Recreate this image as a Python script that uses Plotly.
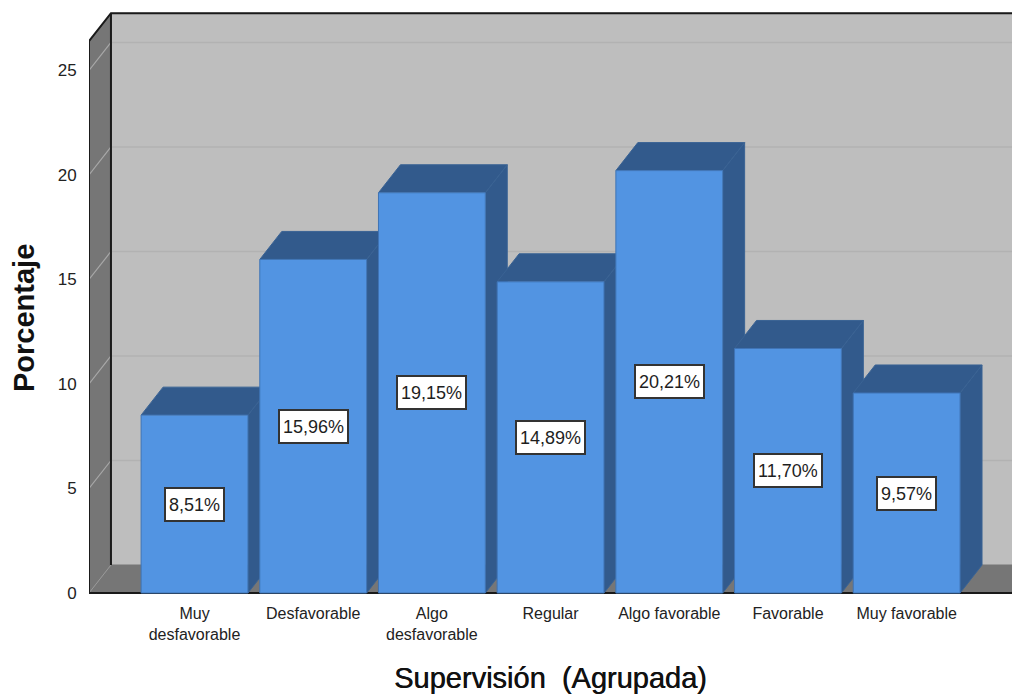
import plotly.graph_objects as go

categories = ["Muy<br>desfavorable", "Desfavorable", "Algo<br>desfavorable", "Regular",
              "Algo favorable", "Favorable", "Muy favorable"]
values = [8.51, 15.96, 19.15, 14.89, 20.21, 11.70, 9.57]
labels = ["8,51%", "15,96%", "19,15%", "14,89%", "20,21%", "11,70%", "9,57%"]
yticks = [0, 5, 10, 15, 20, 25]

BAR_W = 0.9
DX, DY = 0.185, 1.34       # oblique depth offset in axis units
XL, XR = -0.889, 6.889     # front floor extents
XMAX = 6.955
YTOP = 26.4
YMIN = -0.239
YMAX = 27.99
WALL = "#BEBEBE"
SIDE_WALL = "#767676"
BAR = "#5294E2"
BAR_DK = "#325A8C"
EDGE = "#1A1A1A"

fig = go.Figure()


def poly(xs, ys, fill, line=None, width=1):
    fig.add_trace(go.Scatter(x=xs, y=ys, mode="lines", fill="toself", fillcolor=fill,
                             line=dict(color=line or fill, width=width),
                             hoverinfo="skip", showlegend=False))


def seg(xs, ys, color, width):
    fig.add_trace(go.Scatter(x=xs, y=ys, mode="lines", line=dict(color=color, width=width),
                             hoverinfo="skip", showlegend=False))


# back wall, side wall, floor
poly([XL + DX, XMAX + 1, XMAX + 1, XL + DX], [DY, DY, YTOP + DY, YTOP + DY], WALL)
poly([XL, XL + DX, XL + DX, XL], [0, DY, YTOP + DY, YTOP], SIDE_WALL)
poly([XL, XL + DX, XMAX + 1, XR], [0, DY, DY, 0], SIDE_WALL)

# gridlines
for t in yticks[1:]:
    seg([XL + DX, XMAX + 1], [t + DY, t + DY], "#B2B2B2", 1.5)
    seg([XL, XL + DX], [t, t + DY], "#A8A8A8", 1.2)
seg([XL, XL + DX], [0, DY], "#9A9A9A", 1)

# frame edges
seg([XL, XL, XL + DX, XMAX + 1], [0, YTOP, YTOP + DY, YTOP + DY], EDGE, 2)
seg([XL + DX, XL + DX], [DY, YTOP + DY], EDGE, 2)
seg([XL, XR, XR + DX], [0, 0, DY], EDGE, 2)

# depth faces, left to right
half = BAR_W / 2
for i, v in enumerate(values):
    r = i + half
    l = i - half
    poly([r, r + DX, r + DX, r], [0, DY, v + DY, v], BAR_DK, "#3A6394", 1)
    poly([l, l + DX, r + DX, r], [v, v + DY, v + DY, v], BAR_DK, "#3A6394", 1)

# front faces on an overlay axis so they sit above the depth faces
fig.add_trace(go.Bar(x=list(range(len(values))), y=values, width=BAR_W, xaxis="x2", yaxis="y2",
                     marker=dict(color=BAR, line=dict(color="#3F74B5", width=1)),
                     hoverinfo="y", showlegend=False))

annotations = [
    dict(x=i, y=v / 2, xref="x2", yref="y2", text=lab, showarrow=False, height=25,
         font=dict(family="Liberation Sans", size=18, color="#1E1E1E"),
         bgcolor="white", bordercolor="#333333", borderwidth=2, borderpad=3)
    for i, (v, lab) in enumerate(zip(values, labels))
]
annotations.append(dict(x=0.496, y=-0.136, xref="paper", yref="paper", showarrow=False,
                        xanchor="center", yanchor="middle",
                        text="Supervisión  (Agrupada)",
                        font=dict(family="Liberation Sans", size=29, color="#111111",
                                  shadow="0.5px 0 0 #111111")))
annotations.append(dict(x=-0.0698, y=0.4746, xref="paper", yref="paper", showarrow=False, textangle=-90,
                        xanchor="center", yanchor="middle",
                        text="<b>Porcentaje</b>",
                        font=dict(family="Liberation Sans", size=29, color="#111111")))

fig.update_layout(
    width=1012, height=687, autosize=False,
    margin=dict(l=81, r=0, t=0, b=97),
    paper_bgcolor="white", plot_bgcolor="white",
    showlegend=False, annotations=annotations,
    xaxis=dict(range=[XL, XMAX], tickmode="array", tickvals=list(range(len(categories))),
               ticktext=categories, showgrid=False, zeroline=False, showline=False,
               ticks="outside", ticklen=1, tickcolor="rgba(0,0,0,0)",
               tickfont=dict(family="Liberation Sans", size=16, color="#222222")),
    yaxis=dict(range=[YMIN, YMAX], tickmode="array", tickvals=yticks, showgrid=False, zeroline=False,
               showline=False, ticks="outside", ticklen=8, tickcolor="rgba(0,0,0,0)",
               tickfont=dict(family="Liberation Sans", size=17, color="#222222")),
    xaxis2=dict(range=[XL, XMAX], overlaying="x", visible=False),
    yaxis2=dict(range=[YMIN, YMAX], overlaying="y", visible=False),
)

fig.write_html("out.html")
